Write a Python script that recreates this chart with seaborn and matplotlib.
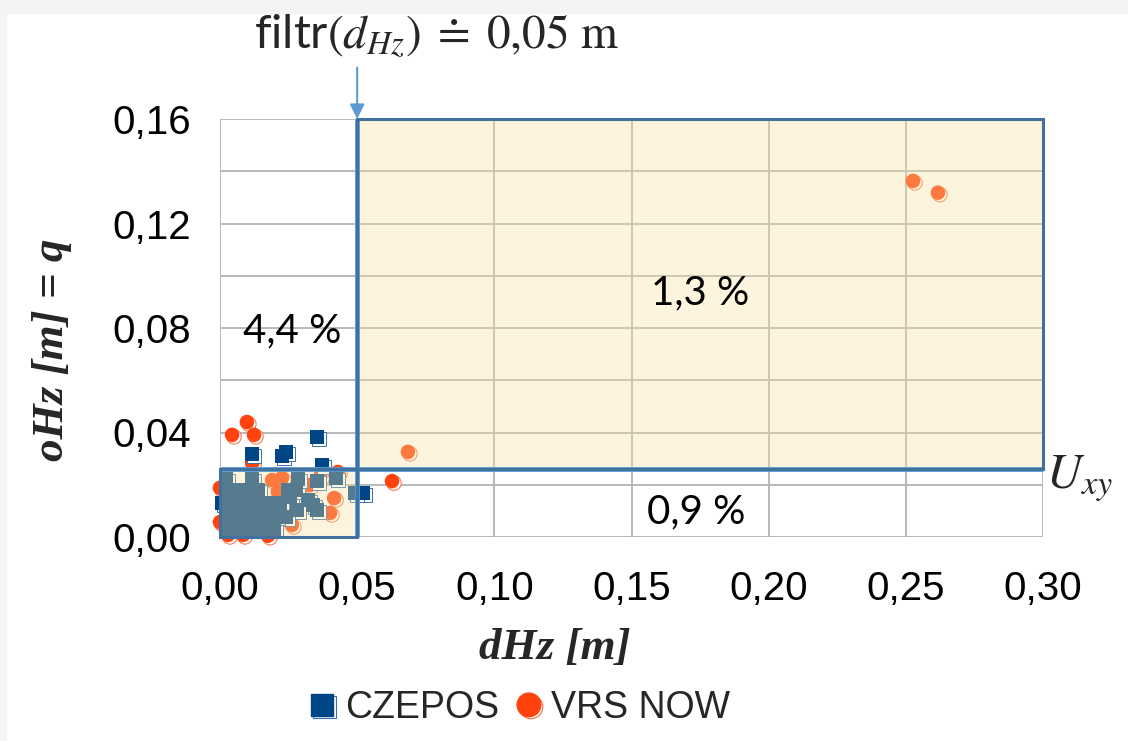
import matplotlib
matplotlib.use("Agg")
import matplotlib.pyplot as plt
import matplotlib.patheffects as pe
from matplotlib.patches import Rectangle
from matplotlib.lines import Line2D
import seaborn as sns
import pandas as pd

# ---------------- data ----------------
czepos_dhz = [0.0354, 0.0117, 0.0226, 0.0241, 0.0372, 0.0521, 0.0492, 0.0007,
              0.0354, 0.0423, 0.0255, 0.0321, 0.0354, 0.0281, 0.0241, 0.0339,
              0.0022, 0.0066, 0.0109, 0.0153, 0.0197,
              0.0029, 0.0073, 0.0117, 0.0160, 0.0204,
              0.0044, 0.0087, 0.0131, 0.0175, 0.0219,
              0.0022, 0.0066, 0.0109, 0.0139, 0.0248, 0.0277,
              0.0022, 0.0117, 0.0284]
czepos_ohz = [0.0383, 0.0318, 0.0310, 0.0326, 0.0276, 0.0169, 0.0169, 0.0130,
              0.0214, 0.0226, 0.0153, 0.0142, 0.0103, 0.0103, 0.0077, 0.0123,
              0.0031, 0.0031, 0.0031, 0.0031, 0.0031,
              0.0080, 0.0080, 0.0080, 0.0080, 0.0080,
              0.0130, 0.0130, 0.0130, 0.0130, 0.0130,
              0.0180, 0.0180, 0.0180, 0.0180, 0.0180, 0.0180,
              0.0222, 0.0222, 0.0222]

vrs_dhz = [0.2526, 0.2617, 0.0685, 0.0627, 0.0098, 0.0044, 0.0124, 0.0117,
           0.0430, 0.0416, 0.0401, 0.0262, 0.0328, 0.0365, 0.0000, 0.0000,
           0.0029, 0.0084, 0.0175, 0.0190, 0.0226, 0.0211, 0.0255, 0.0128,
           0.0073]
vrs_ohz = [0.1363, 0.1318, 0.0326, 0.0214, 0.0440, 0.0391, 0.0391, 0.0283,
           0.0249, 0.0149, 0.0092, 0.0046, 0.0199, 0.0230, 0.0188, 0.0057,
           0.0008, 0.0008, 0.0005, 0.0218, 0.0226, 0.0172, 0.0123, 0.0123,
           0.0065]

series_names = ["CZEPOS", "VRS NOW"]
x_ticks = [0.00, 0.05, 0.10, 0.15, 0.20, 0.25, 0.30]
x_tick_labels = ["0,00", "0,05", "0,10", "0,15", "0,20", "0,25", "0,30"]
y_ticks = [0.00, 0.02, 0.04, 0.06, 0.08, 0.10, 0.12, 0.14, 0.16]
y_tick_labels = ["0,00", "", "0,04", "", "0,08", "", "0,12", "", "0,16"]

filter_dhz = 0.05
u_xy = 0.026
y_top = 0.16
x_right = 0.30
region_labels = ["4,4 %", "1,3 %", "0,9 %"]

# ---------------- style ----------------
sns.set_style("white")
plt.rcParams["font.family"] = ["Liberation Sans", "DejaVu Sans"]
plt.rcParams["mathtext.fontset"] = "stix"

c_blue = "#004586"
c_orange = "#ff420e"
c_edge = "#41719c"
c_light = "#5b9bd5"
c_grid = "#b3b3b3"

fig = plt.figure(figsize=(11.28, 7.41), dpi=100)
fig.patch.set_facecolor("#f4f4f4")
fig.add_artist(Rectangle((7 / 1128, 0), 1, (741 - 14) / 741, transform=fig.transFigure,
                         facecolor="white", edgecolor="none", zorder=-10))
ax = fig.add_axes([220 / 1128, 204 / 741, 823 / 1128, 418 / 741])
ax.set_facecolor("none")

df_c = pd.DataFrame({"dHz": czepos_dhz, "oHz": czepos_ohz, "series": series_names[0]})
df_v = pd.DataFrame({"dHz": vrs_dhz, "oHz": vrs_ohz, "series": series_names[1]})

pe_v = [pe.PathPatchEffect(offset=(1.4, -1.4), facecolor="white", edgecolor="#ff6a3d", linewidth=0.7),
        pe.Normal()]
pe_c = [pe.PathPatchEffect(offset=(1.4, -1.4), facecolor="white", edgecolor="#3a6fae", linewidth=0.7),
        pe.Normal()]

sns.scatterplot(data=df_v, x="dHz", y="oHz", color=c_orange, marker="o", s=110,
                linewidth=0, ax=ax, clip_on=False, zorder=2, legend=False, path_effects=pe_v)
sns.scatterplot(data=df_c, x="dHz", y="oHz", color=c_blue, marker="s", s=100,
                linewidth=0, ax=ax, clip_on=False, zorder=2, legend=False, path_effects=pe_c)

# axes
ax.set_xlim(0, x_right)
ax.set_ylim(0, y_top)
ax.set_xticks(x_ticks)
ax.set_xticklabels(x_tick_labels)
ax.set_yticks(y_ticks)
ax.set_yticklabels(y_tick_labels)
for s in ax.spines.values():
    s.set_visible(False)
ax.set_axisbelow(True)
ax.grid(True, color=c_grid, lw=1.3)
ax.tick_params(axis="both", length=12, width=1.3, color=c_grid, labelsize=29, pad=9,
               labelcolor="black")
ax.tick_params(axis="x", pad=12, direction="out")

# shaded regions (overlay on top of points)
fill_rgb = (249 / 255, 226 / 255, 158 / 255)
small = dict(xy=(0, 0), w=filter_dhz, h=u_xy)
big = dict(xy=(filter_dhz, u_xy), w=x_right - filter_dhz, h=y_top - u_xy)
for r in (small, big):
    ax.add_patch(Rectangle(r["xy"], r["w"], r["h"], facecolor=fill_rgb, alpha=0.35,
                           edgecolor="none", zorder=3, clip_on=False))
ax.plot([filter_dhz, filter_dhz], [0, y_top], color=c_light, lw=3.5, zorder=4,
        clip_on=False, solid_capstyle="butt")
ax.plot([0, x_right], [u_xy, u_xy], color=c_light, lw=3.5, zorder=4, clip_on=False,
        solid_capstyle="butt")
for r in (small, big):
    ax.add_patch(Rectangle(r["xy"], r["w"], r["h"], fill=False, edgecolor=c_edge,
                           lw=2.2, zorder=5, clip_on=False))

# arrow + filter label
ax.annotate("", xy=(filter_dhz, y_top), xytext=(0, 37), textcoords="offset points",
            arrowprops=dict(arrowstyle="-|>", color=c_light, lw=1.5, mutation_scale=22,
                            shrinkA=0, shrinkB=0), annotation_clip=False, zorder=6)
fig.text(436 / 1128, 1 - 36 / 741, r"filtr$(d_{Hz})\;\doteq\;0{,}05\ \mathrm{m}$",
         family=["Lato", "DejaVu Sans"], fontsize=34, ha="center", va="center")

# U_xy label
ax.text(1.004, u_xy - 0.0035, r"$U_{xy}$", transform=ax.get_yaxis_transform(),
        fontsize=35, ha="left", va="center")

# region labels
lbl_font = dict(family=["Lato", "DejaVu Sans"], fontsize=29, ha="center", va="center",
                zorder=7, color="black")
ax.text(0.0262, 0.0789, region_labels[0], **lbl_font)
ax.text(0.175, 0.0935, region_labels[1], **lbl_font)
ax.text(0.1735, 0.0096, region_labels[2], **lbl_font)

# axis labels
lab_font = dict(family=["Liberation Serif", "DejaVu Serif"], style="italic", weight="bold",
                fontsize=32.5)
ax.set_xlabel("dHz [m]", **lab_font)
ax.xaxis.label.set_va("center")
ax.xaxis.set_label_coords((555 - 220) / 823, (741 - 648 - 204) / 418)
ax.set_ylabel("oHz [m] = q", **lab_font)
ax.yaxis.label.set_va("center")
ax.yaxis.set_label_coords((52 - 220) / 823, (741 - 350 - 204) / 418)

# legend
h_c = Line2D([], [], marker="s", color=c_blue, ls="", markersize=16,
             path_effects=[pe.PathPatchEffect(offset=(1.5, -1.5), facecolor="white",
                                              edgecolor="#3a6fae", linewidth=0.8), pe.Normal()])
h_v = Line2D([], [], marker="o", color=c_orange, ls="", markersize=17,
             path_effects=[pe.PathPatchEffect(offset=(1.5, -1.5), facecolor="white",
                                              edgecolor="#ff6a3d", linewidth=0.8), pe.Normal()])
fig.legend([h_c, h_v], series_names, loc="center", bbox_to_anchor=(517 / 1128, 1 - 708 / 741),
           ncol=2, frameon=False, fontsize=27, handletextpad=0.1, columnspacing=0.3,
           handlelength=1.0)

fig.savefig("out.png", dpi=100, facecolor=fig.get_facecolor())
